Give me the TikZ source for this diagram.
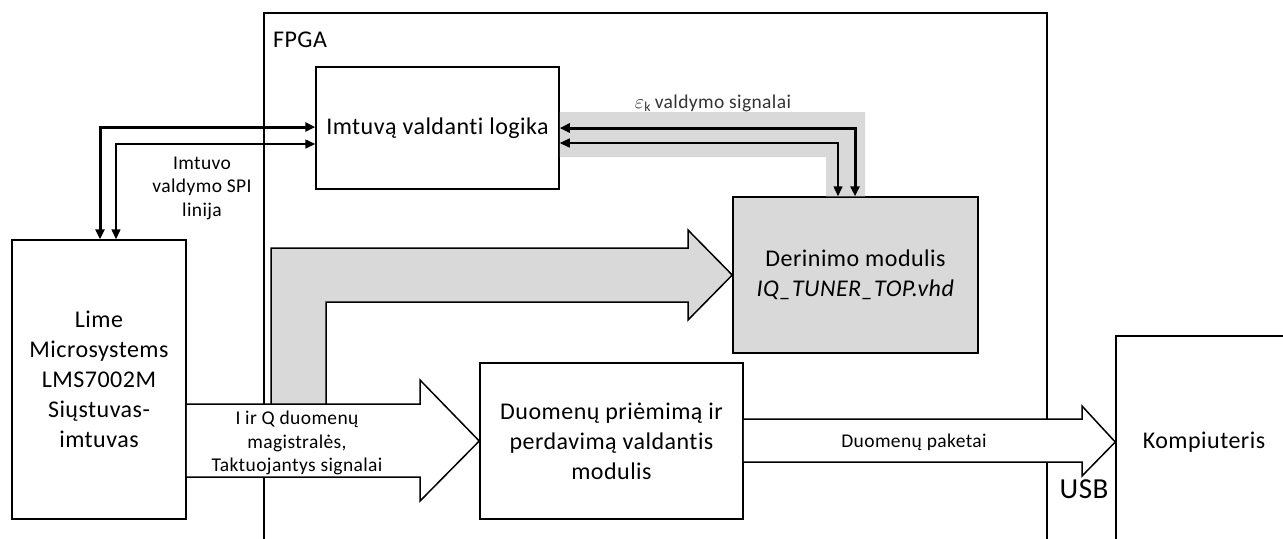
\documentclass[tikz,border=0pt]{standalone}
\usepackage{fontspec}
\setmainfont{Carlito}[Ligatures=NoCommon, LetterSpace=2]
\usepackage{tikz}
\usetikzlibrary{arrows.meta}
\definecolor{pilka}{HTML}{D9D9D9}
\tikzset{
  didelis/.style = {font=\fontsize{12}{15}\selectfont},
  mazas/.style = {font=\fontsize{9.75}{11.75}\selectfont},
  blokas/.style = {draw, line width=0.75pt, inner sep=0pt, align=center, didelis},
  linija/.style = {line width=0.75pt},
  storas/.style = {line width=1.5pt},
  baltarod/.style = {draw, fill=white, line width=0.75pt, line join=miter},
  pilkarod/.style = {draw, fill=pilka, line width=0.75pt, line join=miter},
  >={Triangle[length=5pt,width=4.5pt]}
}

\begin{document}
\begin{tikzpicture}[x=0.5pt, y=-0.5pt]
  \clip (0,0) rectangle (1283,538);

  % FPGA
  \draw[linija] (264,13) rectangle (1047,560);
  \node[didelis] (fpga) at (300,40) {FPGA};

  % blokai
  \node[blokas, minimum width=87pt, minimum height=139.5pt] (lime) at (99,379.5)
    {Lime\\ Microsystems\\ LMS7002M\\ Siųstuvas-\\ imtuvas};
  \node[blokas, minimum width=121.5pt, minimum height=61pt] (imtuva) at (437.5,128)
    {Imtuvą valdanti logika};
  \node[blokas, fill=pilka, minimum width=122.5pt, minimum height=78pt] (derin) at (855.5,275)
    {Derinimo modulis\\ \textit{IQ\_TUNER\_TOP.vhd}};
  \node[blokas, minimum width=131.5pt, minimum height=78pt] (duom) at (611.5,441)
    {Duomenų priėmimą ir\\ perdavimą valdantis\\ modulis};
  \node[blokas, minimum width=88pt, minimum height=106pt] (komp) at (1204,442)
    {Kompiuteris};

  % SPI linija
  \draw[storas,<->] (100,0 |- lime.north) |- (imtuva.west |- 0,127);
  \draw[linija,<->] (116,0 |- lime.north) |- (imtuva.west |- 0,144);
  \node[mazas, align=center] (spi) at (202,188) {Imtuvo\\ valdymo SPI\\ linija};

  % valdymo signalai
  \fill[pilka] (imtuva.east |- 0,112) -- (865,112) -- (865,0 |- derin.north)
    -- (826,0 |- derin.north) -- (826,157) -- (imtuva.east |- 0,157) -- cycle;
  \draw[storas,<->] (imtuva.east |- 0,128) -| (855,0 |- derin.north);
  \draw[linija,<->] (imtuva.east |- 0,143) -| (838,0 |- derin.north);
  \node[mazas, text=black!80] (eps) at (713,103) {$\varepsilon_{\mathrm{k}}$\,valdymo signalai};

  % duomenu magistrales
  \draw[pilkarod] (271,404) -- (271,248) -- (688,248) -- (688,230) -- (derin.west)
    -- (688,320) -- (688,302) -- (326,302) -- (326,404);
  \draw[baltarod] (lime.east |- 0,404) -- (420,404) -- (420,380) -- (duom.west)
    -- (420,501) -- (420,477) -- (lime.east |- 0,477);
  \node[mazas, align=center] (iq) at (297,443)
    {I ir Q duomenų\\ magistralės,\\ Taktuojantys signalai};

  % USB
  \draw[baltarod] (duom.east |- 0,419) -- (1082,419) -- (1082,406) -- (komp.west)
    -- (1082,476) -- (1082,462) -- (duom.east |- 0,462);
  \node[mazas] (paketai) at (914,442) {Duomenų paketai};
  \node[font=\fontsize{14.5}{17}\selectfont] (usb) at (1084,489) {USB};

\end{tikzpicture}
\end{document}
